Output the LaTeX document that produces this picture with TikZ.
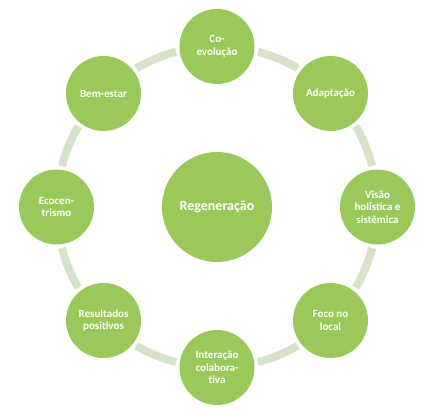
\documentclass[tikz,border=0pt]{standalone}
\usepackage{fontspec}
\setmainfont{Carlito}
\definecolor{nodegreen}{RGB}{155,200,90}
\definecolor{ringgreen}{RGB}{214,227,200}
\begin{document}
\begin{tikzpicture}[x=1pt,y=1pt,
  outer/.style={circle,fill=nodegreen,minimum size=75pt,inner sep=0pt,text=white,font=\bfseries\fontsize{11}{12.5}\selectfont,align=center},
  hub/.style={circle,fill=nodegreen,minimum size=110pt,inner sep=0pt,text=white,font=\bfseries\fontsize{14}{16}\selectfont,align=center},
  ringseg/.style={draw=ringgreen,line width=8pt}]
\useasboundingbox (0,0) rectangle (428,414);
\coordinate (c) at (217,207);
\node[hub] (reg) at (c) {Regeneração};
\node[outer] (n1) at ([shift={(90:160.5)}]c) {Co-\\evolução};
\node[outer] (n2) at ([shift={(45:160.5)}]c) {Adaptação};
\node[outer] (n3) at ([shift={(0:160.5)}]c) {Visão\\holística e\\sistêmica};
\node[outer] (n4) at ([shift={(-45:160.5)}]c) {Foco no\\local};
\node[outer] (n5) at ([shift={(-90:160.5)}]c) {Interação\\colabora-\\tiva};
\node[outer] (n6) at ([shift={(-135:160.5)}]c) {Resultados\\positivos};
\node[outer] (n7) at ([shift={(180:160.5)}]c) {Ecocen-\\trismo};
\node[outer] (n8) at ([shift={(135:160.5)}]c) {Bem-estar};
\begin{scope}[on background layer/.style={}]
\foreach \a in {90,45,0,-45,-90,-135,180,135}{
  \draw[ringseg] ([shift={(\a-14.8:160.5)}]c) arc[start angle=\a-14.8, end angle=\a-30.2, radius=160.5];
}
\end{scope}
\end{tikzpicture}
\end{document}
